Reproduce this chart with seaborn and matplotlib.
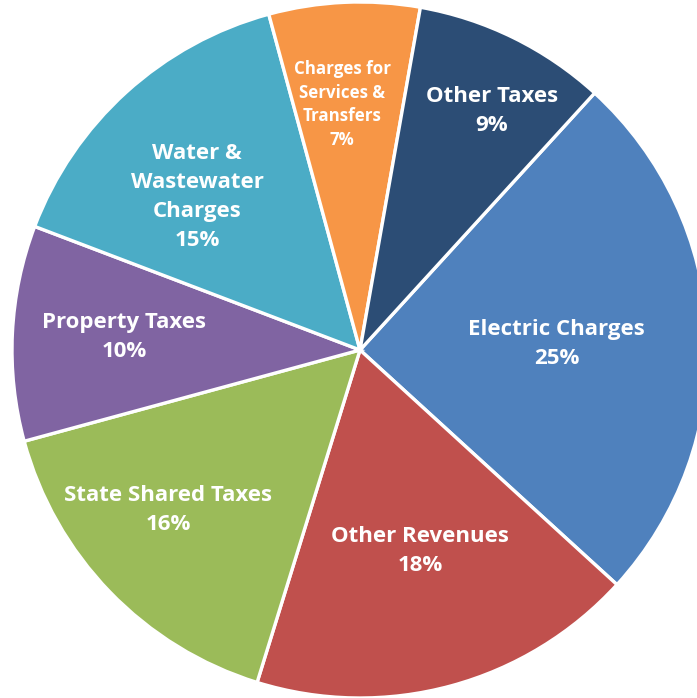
import numpy as np
import matplotlib
matplotlib.use("Agg")
import matplotlib.pyplot as plt
import seaborn as sns

sns.set_theme(style="white")
plt.rcParams["font.family"] = ["Open Sans", "DejaVu Sans"]

# Revenue sources, clockwise from the top-right
categories = [
    "Electric Charges",
    "Other Revenues",
    "State Shared Taxes",
    "Property Taxes",
    "Water &\nWastewater\nCharges",
    "Charges for\nServices &\nTransfers",
    "Other Taxes",
]
shares = [25, 18, 16, 10, 15, 7, 9]
colors = ["#4F81BD", "#C0504D", "#9BBB59", "#8064A2", "#4BACC6", "#F79646", "#2C4D75"]

# label placement: radial distance (fraction of radius), angular nudge from
# the wedge midline (degrees), font size and line spacing
label_dist = [0.566, 0.595, 0.713, 0.68, 0.647, 0.715, 0.79]
label_nudge = [0.0, 1.7, -4.7, -1.0, 4.2, 1.5, -2.5]
label_size = [16, 16, 16, 16, 16, 12.2, 16]
label_lsp = [1.5, 1.5, 1.5, 1.5, 1.5, 1.4, 1.5]

W, H = 697, 698
fig = plt.figure(figsize=(W / 100, H / 100), dpi=100)
ax = fig.add_axes([0, 0, 1, 1])

wedges, _ = ax.pie(
    shares,
    colors=colors,
    startangle=47.6,
    counterclock=False,
    radius=1.0,
    wedgeprops=dict(edgecolor="white", linewidth=2.4),
)

for w, name, pct, d, nd, fs, ls in zip(
    wedges, categories, shares, label_dist, label_nudge, label_size, label_lsp
):
    mid = np.deg2rad((w.theta1 + w.theta2) / 2 + nd)
    ax.annotate(
        f"{name}\n{pct}%",
        xy=(d * np.cos(mid), d * np.sin(mid)),
        xytext=(0, -2.5), textcoords="offset pixels",
        ha="center", va="center", color="white",
        fontsize=fs, fontweight="bold", linespacing=ls,
    )

# centre at (360, 350) px from top-left, radius 348 px
R = 348.0
cx, cy = 360.0, 350.0
ax.set_aspect("auto")
ax.set_xlim(-cx / R, (W - cx) / R)
ax.set_ylim(-(H - cy) / R, cy / R)
ax.axis("off")

fig.savefig("out.png", dpi=100, facecolor="white")
